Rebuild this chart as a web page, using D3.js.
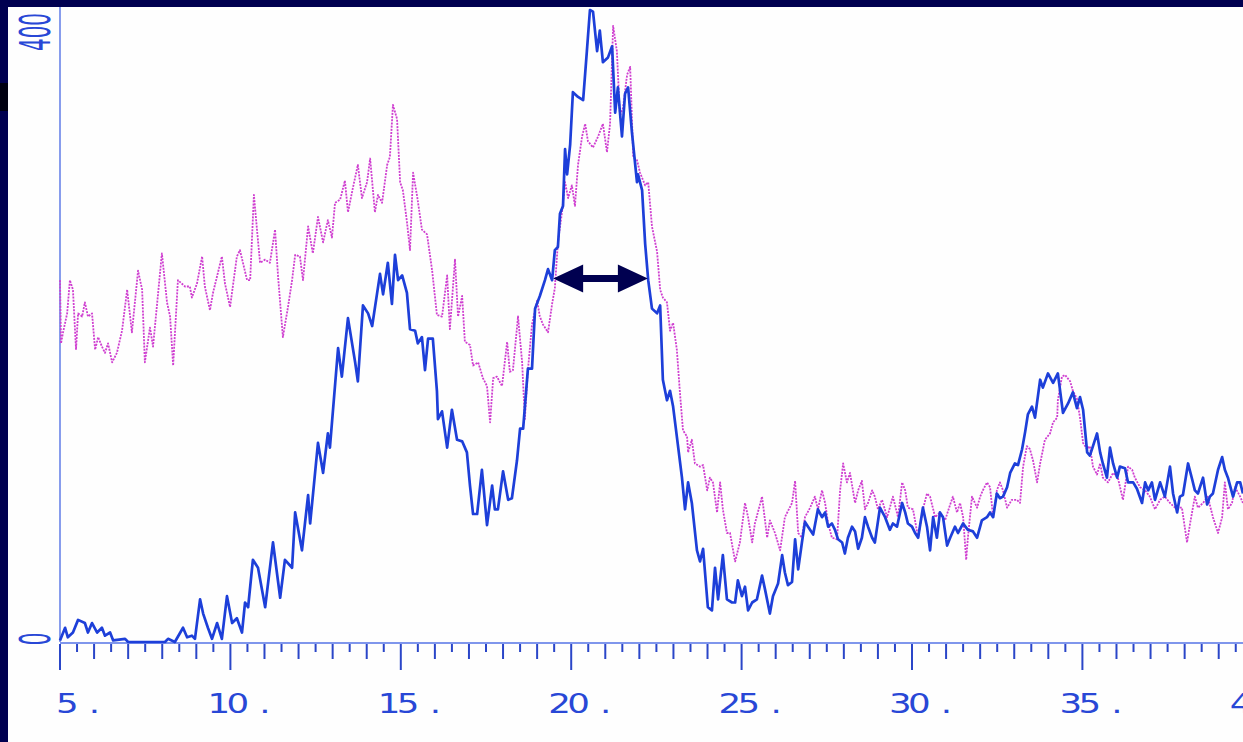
<!DOCTYPE html>
<html>
<head>
<meta charset="utf-8">
<script src="https://cdn.jsdelivr.net/npm/d3@7"></script>
<style>
  html, body { margin: 0; padding: 0; background: #000050; overflow: hidden; }
  svg { display: block; }
</style>
</head>
<body>
<svg id="chart" width="1243" height="742"></svg>
<script>
// Retention (x) and intensity (y) readings for the two traces
const blueX = [5.00,5.15,5.23,5.38,5.53,5.73,5.82,5.94,6.09,6.23,6.32,6.47,6.56,6.91,7.00,8.08,8.17,8.37,8.61,8.73,8.87,8.96,9.11,9.20,9.34,9.46,9.61,9.75,9.90,10.05,10.19,10.34,10.43,10.52,10.66,10.81,11.02,11.25,11.46,11.60,11.81,11.90,12.10,12.28,12.34,12.57,12.72,12.86,12.92,13.16,13.27,13.45,13.66,13.74,13.89,14.04,14.16,14.39,14.48,14.62,14.74,14.83,14.92,15.04,15.18,15.27,15.42,15.50,15.62,15.71,15.80,15.94,16.06,16.09,16.21,16.36,16.50,16.65,16.80,16.94,17.03,17.12,17.24,17.38,17.53,17.68,17.76,17.85,18.00,18.15,18.26,18.41,18.50,18.59,18.73,18.85,18.94,19.08,19.23,19.32,19.44,19.52,19.61,19.67,19.76,19.82,19.88,19.97,20.05,20.20,20.35,20.46,20.55,20.64,20.76,20.84,20.93,21.08,21.20,21.29,21.37,21.49,21.58,21.67,21.78,21.93,21.96,22.08,22.17,22.26,22.37,22.52,22.61,22.69,22.81,22.90,22.99,23.10,23.25,23.34,23.43,23.54,23.69,23.78,23.87,24.01,24.13,24.22,24.31,24.45,24.57,24.72,24.81,24.89,25.01,25.10,25.19,25.31,25.45,25.60,25.69,25.83,25.92,26.07,26.19,26.27,26.36,26.48,26.57,26.66,26.77,26.86,26.95,27.10,27.24,27.36,27.45,27.54,27.65,27.74,27.83,27.95,28.03,28.12,28.24,28.33,28.42,28.53,28.62,28.71,28.83,28.91,29.06,29.21,29.35,29.44,29.56,29.71,29.80,29.88,30.00,30.09,30.18,30.32,30.44,30.53,30.62,30.73,30.82,30.91,31.03,31.12,31.26,31.35,31.50,31.64,31.79,31.91,32.05,32.20,32.29,32.38,32.49,32.58,32.67,32.79,32.88,33.02,33.11,33.23,33.32,33.40,33.52,33.61,33.76,33.84,33.99,34.14,34.28,34.43,34.58,34.72,34.84,34.93,35.02,35.14,35.22,35.31,35.43,35.52,35.60,35.72,35.81,35.90,36.02,36.10,36.25,36.34,36.49,36.60,36.75,36.84,36.93,37.04,37.13,37.28,37.42,37.57,37.66,37.78,37.86,37.95,38.10,38.22,38.30,38.39,38.54,38.66,38.74,38.83,38.98,39.10,39.18,39.27,39.42,39.54,39.63,39.71];
const blueY = [1,9,3,6,14,12,6,12,6,9,4,6,1,2,0,0,2,0,9,3,4,2,27,18,9,2,12,2,29,12,15,6,25,22,52,47,22,63,28,52,47,82,58,93,75,126,107,132,123,186,168,205,177,165,213,208,200,233,220,240,214,245,229,232,221,198,197,189,193,172,192,192,159,141,146,123,147,128,127,120,99,81,81,109,74,99,84,84,108,90,91,115,135,135,173,173,211,219,229,236,229,248,250,271,276,312,296,315,348,345,343,374,400,399,374,387,367,370,377,335,351,320,347,351,323,291,296,286,252,229,211,208,213,166,153,159,149,130,104,84,101,88,58,51,59,22,20,47,27,55,27,25,25,39,29,35,20,25,27,42,33,18,29,37,55,44,36,38,65,46,63,76,73,68,84,79,82,73,75,71,65,63,56,66,73,70,59,66,79,73,66,63,85,79,71,75,73,88,82,75,73,69,66,85,73,58,79,66,82,79,61,66,73,69,75,71,70,66,77,79,82,79,94,91,92,98,107,113,112,122,133,144,149,142,166,161,170,164,170,145,151,158,148,155,147,120,118,124,132,120,113,104,123,113,104,111,110,101,101,97,88,101,96,101,90,101,92,111,94,82,92,93,113,103,96,94,104,87,92,94,109,117,109,104,92,101,101,94];

const pinkX = [5.00,5.03,5.09,5.21,5.29,5.38,5.47,5.53,5.65,5.73,5.82,5.94,6.03,6.12,6.23,6.32,6.41,6.53,6.67,6.82,6.97,7.11,7.29,7.41,7.49,7.64,7.73,7.99,8.14,8.23,8.32,8.46,8.67,8.81,8.87,9.02,9.17,9.25,9.40,9.49,9.75,9.84,9.99,10.19,10.28,10.49,10.58,10.69,10.78,10.87,11.02,11.16,11.31,11.40,11.54,11.69,11.81,11.90,12.04,12.13,12.28,12.42,12.57,12.72,12.86,12.98,13.07,13.22,13.36,13.45,13.60,13.74,13.86,14.01,14.10,14.24,14.33,14.45,14.60,14.68,14.77,14.89,14.98,15.06,15.18,15.27,15.36,15.48,15.62,15.77,15.92,16.06,16.21,16.36,16.44,16.59,16.68,16.80,16.88,17.03,17.12,17.27,17.41,17.53,17.62,17.71,17.82,17.97,18.12,18.20,18.29,18.44,18.56,18.64,18.73,18.85,19.00,19.08,19.17,19.32,19.44,19.52,19.61,19.73,19.82,19.91,20.02,20.11,20.20,20.32,20.41,20.49,20.64,20.79,20.93,21.05,21.14,21.23,21.34,21.43,21.52,21.64,21.73,21.82,21.93,22.02,22.17,22.26,22.37,22.52,22.61,22.69,22.81,22.90,22.99,23.10,23.19,23.28,23.40,23.43,23.54,23.63,23.78,23.87,23.99,24.07,24.16,24.28,24.37,24.45,24.57,24.66,24.81,24.95,25.10,25.19,25.31,25.39,25.60,25.75,25.83,25.98,26.13,26.27,26.48,26.57,26.66,26.77,26.86,27.01,27.15,27.24,27.36,27.45,27.54,27.65,27.80,27.89,27.98,28.09,28.18,28.33,28.42,28.53,28.62,28.71,28.83,28.91,29.00,29.12,29.27,29.35,29.44,29.59,29.71,29.80,29.88,30.03,30.18,30.32,30.44,30.53,30.68,30.82,30.97,31.12,31.20,31.32,31.41,31.50,31.59,31.64,31.76,31.91,32.00,32.08,32.20,32.29,32.38,32.49,32.58,32.67,32.79,32.93,33.08,33.17,33.26,33.37,33.46,33.55,33.67,33.76,33.90,34.05,34.14,34.26,34.28,34.40,34.49,34.64,34.72,34.84,34.93,35.02,35.14,35.22,35.31,35.43,35.52,35.60,35.75,35.90,36.04,36.19,36.34,36.46,36.54,36.69,36.84,36.98,37.13,37.28,37.42,37.57,37.72,37.92,38.07,38.16,38.30,38.39,38.54,38.68,38.83,38.98,39.10,39.18,39.27,39.39,39.48,39.63,39.71];
const pinkY = [229,189,196,208,229,223,185,208,206,215,206,208,185,193,187,183,189,177,183,197,223,196,235,223,177,199,187,246,215,206,175,229,225,225,218,227,244,225,210,221,244,227,212,244,248,229,229,283,261,240,242,240,261,231,193,212,229,245,244,229,263,246,269,253,267,256,278,280,292,272,288,302,281,291,306,272,283,278,302,307,340,331,291,286,266,248,297,282,261,258,235,207,206,232,198,242,206,219,190,188,175,177,167,162,139,167,168,162,190,171,172,206,177,141,172,201,216,206,201,196,214,224,253,272,291,281,289,276,302,320,328,317,313,320,328,310,328,390,374,333,338,359,364,307,305,297,289,291,263,247,223,218,215,197,202,185,158,134,130,120,128,113,111,112,96,104,101,82,101,84,69,69,51,63,88,79,63,75,92,66,77,69,58,79,88,102,69,66,79,85,92,84,96,88,75,66,65,96,113,101,107,88,96,102,84,88,96,92,84,90,79,85,92,79,101,96,85,84,66,84,94,92,79,82,77,87,92,82,88,79,52,66,92,85,92,96,101,98,79,96,101,96,85,90,90,88,111,124,122,115,101,113,128,132,139,142,153,168,169,165,159,154,142,126,122,124,111,106,113,104,101,107,104,90,111,109,104,98,96,92,84,90,92,88,85,85,63,75,92,85,88,92,79,69,79,101,84,88,98,92,88];

// Axis ticks: every half unit, labelled every five units
const xTickValues = d3.range(5, 40.001, 0.5);
const xLabelValues = [5, 10, 15, 20, 25, 30, 35, 40];
const yLabelValues = [0, 400];

// Width marker drawn across the main peak
const widthMarker = { from: 19.47, to: 22.25, level: 230 };

const svg = d3.select("#chart");
const W = 1243, H = 742;

// Paper inside the dark frame
svg.append("rect").attr("x", 0).attr("y", 0).attr("width", W).attr("height", H).attr("fill", "#000050");
svg.append("rect").attr("x", 0).attr("y", 83).attr("width", 8).attr("height", 28).attr("fill", "#000010");
svg.append("rect").attr("x", 8).attr("y", 7).attr("width", W - 8).attr("height", H - 7).attr("fill", "#fefefe");

const x = d3.scaleLinear().domain([5, 40]).range([60, 60 + 35 * 34.08]);
const y = d3.scaleLinear().domain([0, 400]).range([642, 10]);

const axisColor = "#5573e6";
const tickColor = "#2a46c8";
const textColor = "#2847d6";

// Frame lines
svg.append("line").attr("x1", x(5)).attr("x2", x(5)).attr("y1", 7).attr("y2", y(0))
  .attr("stroke", axisColor).attr("stroke-width", 1.4);
svg.append("line").attr("x1", x(5)).attr("x2", W).attr("y1", y(0) + 1).attr("y2", y(0) + 1)
  .attr("stroke", axisColor).attr("stroke-width", 1.4);

// Ticks below the baseline
svg.append("g").selectAll("line").data(xTickValues).join("line")
  .attr("x1", d => x(d)).attr("x2", d => x(d))
  .attr("y1", y(0) + 2)
  .attr("y2", d => y(0) + (d % 5 === 0 ? 28 : (d % 1 === 0 ? 17 : 10)))
  .attr("stroke", tickColor).attr("stroke-width", 2);

// Tick labels in a wide plotter-style face, with a trailing point;
// the last digit starts at its tick
const stretch = 1.32, pitch = 19, fs = 27;
const labels = svg.append("g").selectAll("text").data(xLabelValues).join("text")
  .attr("transform", d => `translate(${x(d) - 4 - (String(d).length - 1) * pitch}, 713) scale(${stretch}, 1)`)
  .attr("font-family", "DejaVu Sans")
  .attr("font-size", fs)
  .attr("letter-spacing", pitch / stretch - fs * 0.636)
  .attr("fill", textColor);
labels.append("tspan").text(d => String(d));
labels.append("tspan").attr("dx", 10.5).text(".");

// Rotated intensity labels
svg.append("g").selectAll("text").data(yLabelValues).join("text")
  .attr("transform", d => d === 0
      ? `translate(50, ${y(0) - 3}) rotate(-90) scale(0.95, 2)`
      : `translate(50, 51) rotate(-90) scale(0.95, 2)`)
  .attr("text-anchor", d => d === 0 ? "middle" : "start")
  .attr("font-family", "DejaVu Sans")
  .attr("font-size", 21)
  .attr("fill", textColor)
  .text(d => d);

// Traces
const line = d3.line().x(d => x(d[0])).y(d => y(d[1]));
const pink = pinkX.map((v, i) => [v, pinkY[i]]);
const blue = blueX.map((v, i) => [v, blueY[i]]);

svg.append("path").datum(pink).attr("d", line)
  .attr("fill", "none").attr("stroke", "#cf3fd0").attr("stroke-width", 1.8)
  .attr("stroke-dasharray", "2 1.2").attr("stroke-linejoin", "round");

svg.append("path").datum(blue).attr("d", line)
  .attr("fill", "none").attr("stroke", "#1d3fd9").attr("stroke-width", 2.7)
  .attr("stroke-linejoin", "round");

// Double-headed width arrow
const ax0 = x(widthMarker.from), ax1 = x(widthMarker.to), ay = y(widthMarker.level);
const head = 30, half = 14, shaft = 3.5;
svg.append("path")
  .attr("d", `M${ax0},${ay} L${ax0 + head},${ay - half} L${ax0 + head},${ay - shaft} L${ax1 - head},${ay - shaft} L${ax1 - head},${ay - half} L${ax1},${ay} L${ax1 - head},${ay + half} L${ax1 - head},${ay + shaft} L${ax0 + head},${ay + shaft} L${ax0 + head},${ay + half} Z`)
  .attr("fill", "#000050");
</script>
</body>
</html>
